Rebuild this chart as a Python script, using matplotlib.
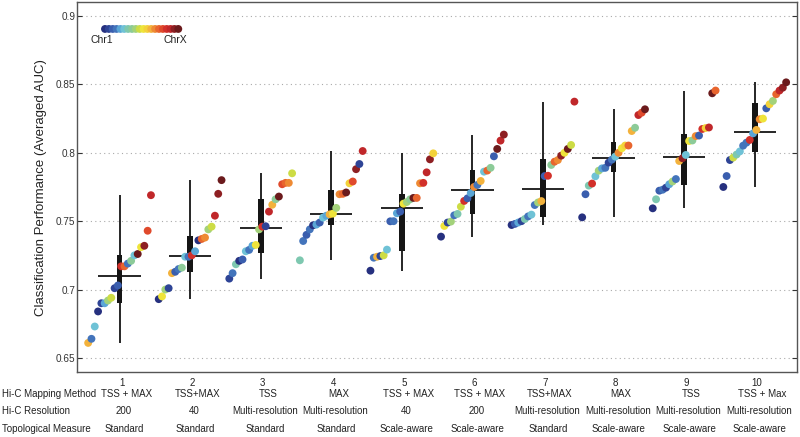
import matplotlib.pyplot as plt
import numpy as np
from matplotlib.colors import ListedColormap

plt.rcParams['font.family'] = ['Liberation Sans', 'DejaVu Sans']

# AUC per chromosome for each of the 10 settings, sorted ascending
auc = [
    [.661, .664, .673, .684, .690, .690, .692, .694, .701, .703, .717, .717, .719, .721, .725, .726, .731, .732, .743, .769],
    [.693, .695, .700, .701, .712, .713, .715, .716, .724, .724, .725, .728, .736, .737, .738, .744, .746, .754, .770, .780],
    [.708, .712, .7185, .721, .722, .728, .729, .732, .7326, .744, .746, .7463, .757, .762, .766, .768, .777, .778, .778, .785],
    [.7214, .7355, .740, .744, .747, .7475, .749, .7526, .754, .755, .7555, .7597, .7697, .770, .771, .7777, .779, .788, .7918, .8013],
    [.7138, .7233, .724, .7245, .725, .7292, .7499, .750, .7558, .757, .7628, .764, .766, .767, .767, .7777, .778, .7857, .7952, .7996],
    [.7387, .7465, .749, .7497, .7543, .7553, .7606, .7648, .7667, .7706, .775, .7765, .7794, .7862, .787, .789, .7974, .8028, .8089, .8133],
    [.7472, .748, .749, .750, .7516, .7535, .7548, .7618, .7637, .7647, .783, .7832, .7911, .7935, .7947, .7979, .800, .8028, .8057, .8374],
    [.7528, .7697, .776, .7775, .7828, .7869, .7886, .789, .7928, .795, .7972, .800, .8033, .8053, .8053, .8159, .8183, .8276, .8293, .8318],
    [.7594, .766, .7723, .773, .7745, .777, .779, .7808, .794, .796, .7984, .8086, .809, .8122, .8126, .8174, .8181, .8185, .8435, .8455],
    [.775, .783, .7947, .7965, .7987, .801, .8052, .8074, .8094, .8142, .8167, .8245, .825, .8325, .8355, .8379, .8428, .8455, .8476, .8515],
]
# chromosome index (0 = Chr1 ... 19 = ChrX) of each dot above
chrom = [
    [12, 3, 5, 0, 1, 4, 8, 9, 1, 2, 16, 14, 3, 7, 5, 19, 10, 18, 15, 17],
    [0, 10, 8, 1, 12, 2, 3, 7, 5, 3, 16, 4, 0, 14, 13, 8, 9, 17, 18, 19],
    [1, 3, 6, 0, 2, 5, 3, 4, 10, 8, 16, 1, 17, 12, 7, 19, 15, 14, 13, 9],
    [6, 3, 2, 3, 0, 4, 2, 5, 4, 12, 10, 8, 13, 14, 19, 11, 15, 18, 1, 17],
    [0, 3, 12, 1, 9, 5, 2, 3, 4, 2, 10, 8, 7, 19, 14, 13, 16, 17, 18, 11],
    [0, 10, 1, 8, 3, 6, 9, 16, 2, 4, 13, 3, 12, 5, 14, 7, 2, 19, 17, 18],
    [0, 2, 4, 1, 6, 3, 5, 3, 8, 12, 2, 16, 7, 14, 13, 18, 10, 19, 9, 17],
    [0, 2, 6, 16, 5, 8, 4, 3, 1, 3, 5, 13, 10, 11, 14, 12, 7, 17, 15, 19],
    [0, 6, 2, 3, 1, 4, 8, 3, 12, 18, 5, 10, 7, 13, 2, 16, 11, 17, 19, 14],
    [0, 2, 1, 9, 6, 5, 3, 3, 16, 4, 12, 13, 10, 2, 11, 8, 14, 17, 18, 19],
]

methods = ['TSS + MAX', 'TSS+MAX', 'TSS', 'MAX', 'TSS + MAX', 'TSS + MAX',
           'TSS+MAX', 'MAX', 'TSS', 'TSS + Max']
resolutions = ['200', '40', 'Multi-resolution', 'Multi-resolution', '40', '200',
               'Multi-resolution', 'Multi-resolution', 'Multi-resolution', 'Multi-resolution']
measures = ['Standard', 'Standard', 'Standard', 'Standard', 'Scale-aware', 'Scale-aware',
            'Standard', 'Scale-aware', 'Scale-aware', 'Scale-aware']
row_names = ['Hi-C Mapping Method', 'Hi-C Resolution', 'Topological Measure']

chr_colors = ListedColormap([
    '#26307f', '#2e4496', '#3a5eae', '#4374bb', '#5aa6d6', '#6fc2d6', '#7ec8b0',
    '#8ccb98', '#a3d27a', '#cddc45', '#efe43a', '#f3d23a', '#f3b23c', '#ee8a33',
    '#e8652e', '#e04a2c', '#d2302a', '#c0272a', '#8e1f22', '#6b1a1c'])

fig = plt.figure(figsize=(8, 4.37), dpi=100)
ax = fig.add_axes([0.0966, 0.148, 0.8993, 0.8467])

n_chr = 20
spread = np.linspace(-0.445, 0.445, n_chr)
dark = '#151515'

for i, vals in enumerate(auc):
    g = i + 1
    vals = np.array(vals)
    q1, med, q3 = np.percentile(vals, [25, 50, 75])
    ax.vlines(g, vals.min(), vals.max(), color=dark, lw=1.3, zorder=2)
    ax.bar(g, q3 - q1, bottom=q1, width=0.08, color=dark, zorder=2)
    ax.hlines(med, g - 0.3, g + 0.3, color=dark, lw=1.3, zorder=2)
    ax.scatter(g + spread, vals, c=np.array(chrom[i]) / (n_chr - 1), cmap=chr_colors,
               vmin=0, vmax=1, s=32, linewidths=0, zorder=3)

# colour key
key_x = np.linspace(0.0385, 0.1404, n_chr)
ax.scatter(key_x, np.full(n_chr, 0.928), c=np.arange(n_chr) / (n_chr - 1), cmap=chr_colors,
           vmin=0, vmax=1, s=32, linewidths=0, transform=ax.transAxes, clip_on=False, zorder=3)
ax.text(0.0335, 0.899, 'Chr1', transform=ax.transAxes, ha='center', va='center', fontsize=7.5, color='#222')
ax.text(0.1362, 0.899, 'ChrX', transform=ax.transAxes, ha='center', va='center', fontsize=7.5, color='#222')

ax.set_xlim(0.401, 10.595)
ax.set_ylim(0.6395, 0.910)
ax.set_yticks([0.65, 0.7, 0.75, 0.8, 0.85, 0.9])
ax.set_yticklabels(['0.65', '0.7', '0.75', '0.8', '0.85', '0.9'])
ax.set_xticks([])
ax.tick_params(axis='y', direction='in', length=3.5, width=0.8, pad=1.5, labelsize=7.2,
               colors='#333', right=True, left=True)
ax.grid(axis='y', linestyle=(0, (1, 3)), color='#aaaaaa', lw=0.8)
ax.set_axisbelow(True)
for s in ax.spines.values():
    s.set_color('#555555')
    s.set_linewidth(1.0)
ax.set_ylabel('Classification Performance (Averaged AUC)', fontsize=9.5, color='#222', labelpad=6)

# table under the axis
tr = ax.get_xaxis_transform()
for i in range(10):
    g = i + 1
    ax.text(g + 0.03, -0.029, str(g), transform=tr, ha='center', va='center', fontsize=7, color='#222')
    ax.text(g + 0.1, -0.0587, methods[i], transform=tr, ha='center', va='center', fontsize=7, color='#222')
    ax.text(g + 0.06, -0.1046, resolutions[i], transform=tr, ha='center', va='center', fontsize=7, color='#222')
    ax.text(g + 0.07, -0.153, measures[i], transform=tr, ha='center', va='center', fontsize=7, color='#222')

for name, yy in zip(row_names, [1 - 394 / 437, 1 - 411 / 437, 1 - 429 / 437]):
    fig.text(0.003, yy, name, ha='left', va='center', fontsize=7, color='#222')

fig.savefig('out.png', dpi=100)
